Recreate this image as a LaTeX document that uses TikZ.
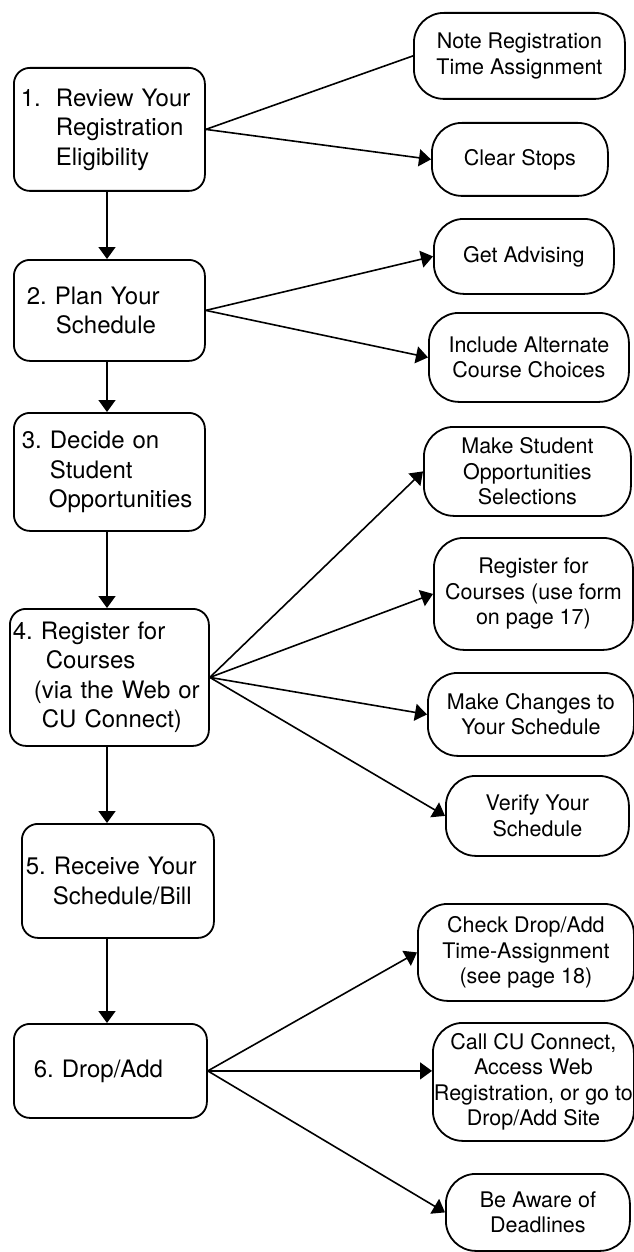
\documentclass[tikz,border=0pt]{standalone}
\usepackage{fontspec}
\setmainfont{TeX Gyre Heros}
\usetikzlibrary{arrows.meta}

\begin{document}
\frenchspacing
\begin{tikzpicture}[x=1pt, y=-1pt,
stepbox/.style={draw, line width=1.8pt, rounded corners=16pt, inner sep=0pt,
    anchor=north west, align=left, font=\fontsize{24}{29.5}\selectfont},
taskbox/.style={draw, line width=1.8pt, rounded corners=30pt, inner sep=0pt,
    anchor=north west, align=center, font=\fontsize{21.5}{25.5}\selectfont},
flow/.style={line width=1.6pt, -{Triangle[length=12pt,width=17pt]}},
link/.style={line width=1.6pt}]

\useasboundingbox (0,0) rectangle (634,1252);
\coordinate (spine) at (107,0);

% MAIN STEPS
\node[stepbox, text width=191pt, minimum height=123pt] (b1) at (13,67)
{\hspace*{7pt}1.\hspace{15pt}Review Your\\\hspace*{42pt}Registration\\\hspace*{42pt}Eligibility};
\node[stepbox, text width=191pt, minimum height=101pt] (b2) at (13,259)
{\hspace*{13pt}2. Plan Your\\\hspace*{42pt}Schedule};
\node[stepbox, text width=191pt, minimum height=118pt] (b3) at (13,412)
{\hspace*{8pt}3. Decide on\\\hspace*{36pt}Student\\\hspace*{35pt}Opportunities};
\node[stepbox, text width=199pt, minimum height=137pt] (b4) at (9,608)
{\hspace*{3pt}4. Register for\\\hspace*{36pt}Courses\\\hspace*{24pt}(via the Web or\\\hspace*{32pt}CU Connect)};
\node[stepbox, text width=192pt, minimum height=114pt] (b5) at (21,823)
{\hspace*{4pt}5. Receive Your\\\hspace*{31pt}Schedule/Bill};
\node[stepbox, text width=193pt, minimum height=94pt] (b6) at (13,1023)
{\hspace*{20pt}6. Drop/Add};

% TASKS
\node[taskbox, minimum width=211pt, minimum height=86pt] (r1) at (413,12) {Note Registration\\Time Assignment};
\node[taskbox, minimum width=176pt, minimum height=73pt] (r2) at (431,122) {Clear Stops};
\node[taskbox, minimum width=180pt, minimum height=75pt] (r3) at (433,218) {Get Advising};
\node[taskbox, minimum width=200pt, minimum height=89pt] (r4) at (428,312) {Include Alternate\\Course Choices};
\node[taskbox, minimum width=207pt, minimum height=89pt] (r5) at (423,426) {Make Student\\Opportunities\\Selections};
\node[taskbox, minimum width=199pt, minimum height=112pt] (r6) at (433,537) {Register for\\Courses (use form\\on page 17)};
\node[taskbox, minimum width=206pt, minimum height=83pt] (r7) at (427,672) {Make Changes to\\Your Schedule};
\node[taskbox, minimum width=183pt, minimum height=80pt] (r8) at (445,775) {Verify Your\\Schedule};
\node[taskbox, minimum width=216pt, minimum height=97pt] (r9) at (417,903) {Check Drop/Add\\Time-Assignment\\(see page 18)};
\node[taskbox, minimum width=201pt, minimum height=118pt] (r10) at (432,1022) {Call CU Connect,\\Access Web\\Registration, or go to\\Drop/Add Site};
\node[taskbox, minimum width=184pt, minimum height=77pt] (r11) at (445,1173) {Be Aware of\\Deadlines};

% down the spine
\foreach \a/\b in {b1/b2, b2/b3, b3/b4, b4/b5, b5/b6}
    \draw[flow] (spine |- \a.south) -- (spine |- \b.north);

% branches
\draw[link] (b1.east) -- (r1.west);
\foreach \s/\r in {b1/r2, b2/r3, b2/r4, b4/r5, b4/r6, b4/r7, b4/r8, b6/r9, b6/r11}
    \draw[flow] (\s.east) -- (\r.west);
\draw[flow] (b6.east) -- (b6.east -| r10.west);

\end{tikzpicture}
\end{document}
